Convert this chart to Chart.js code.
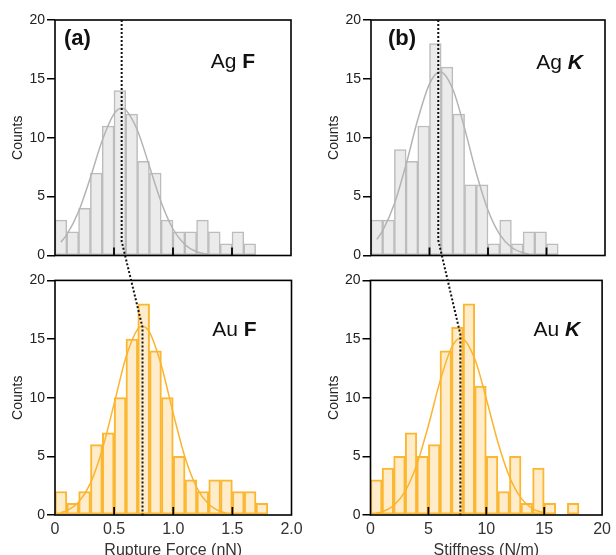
<!DOCTYPE html>
<html><head><meta charset="utf-8">
<script src="https://cdn.jsdelivr.net/npm/chart.js@4"></script>
<style>
html,body{margin:0;padding:0;background:#fff;}
#wrap{position:relative;width:616px;height:555px;overflow:hidden;background:#fff;}
#wrap canvas{position:absolute;}
</style></head><body>
<div id="wrap">
<canvas id="cAgF" width="308" height="270" style="left:0;top:0;width:308px;height:270px"></canvas>
<canvas id="cAuF" width="308" height="295" style="left:0;top:270px;width:308px;height:295px"></canvas>
<canvas id="cAgK" width="308" height="270" style="left:308px;top:0;width:308px;height:270px"></canvas>
<canvas id="cAuK" width="308" height="295" style="left:308px;top:270px;width:308px;height:295px"></canvas>
<canvas id="overlay" width="616" height="555" style="left:0;top:0;width:616px;height:555px;pointer-events:none"></canvas>
</div>
<script>
// ---- data ----
const forceCenters = [0.05,0.15,0.25,0.35,0.45,0.55,0.65,0.75,0.85,0.95,1.05,1.15,1.25,1.35,1.45,1.55,1.65,1.75];
const stiffCenters = [0.5,1.5,2.5,3.5,4.5,5.5,6.5,7.5,8.5,9.5,10.5,11.5,12.5,13.5,14.5,15.5,16.5,17.5];

const agForceCounts = [3,2,4,7,11,14,12,8,7,3,2,2,3,2,1,2,1];
const auForceCounts = [2,1,2,6,7,10,15,18,14,10,5,3,2,3,3,2,2,1];
const agStiffCounts = [3,3,9,8,11,18,16,12,6,6,1,3,1,2,2,1];
const auStiffCounts = [3,4,5,7,5,6,14,16,18,11,5,2,5,1,4,1,0,1];

const agForceFitX = [0.05,0.1,0.2,0.3,0.4,0.5,0.565,0.6,0.7,0.8,0.9,1.0,1.1,1.2,1.3];
const agForceFitY = [1.13,1.77,3.74,6.62,9.77,12.03,12.5,12.36,10.6,7.58,4.53,2.25,0.94,0.32,0.09];
const auForceFitX = [0.05,0.1,0.2,0.3,0.4,0.5,0.6,0.7,0.74,0.8,0.9,1.0,1.1,1.2,1.3,1.4,1.45];
const auForceFitY = [0.20,0.37,1.11,2.72,5.58,9.49,13.45,15.87,16.1,15.57,12.73,8.66,4.90,2.31,0.91,0.30,0.16];
const agStiffFitX = [0.5,1,2,3,4,5,5.9,7,8,9,10,11,12,13,13.5];
const agStiffFitY = [1.37,2.11,4.39,7.74,11.55,14.58,15.6,14.1,10.8,7.0,3.84,1.79,0.70,0.23,0.13];
const auStiffFitX = [0.5,1,2,3,4,5,6,7,7.8,9,10,11,12,13,14,15];
const auStiffFitY = [0.15,0.27,0.81,2.04,4.30,7.63,11.39,14.28,15.1,13.32,9.91,6.20,3.26,1.44,0.53,0.17];

const forceTickLabels = ['0','0.5','1.0','1.5','2.0'];
const stiffTickLabels = ['0','5','10','15','20'];
const forceInnerTicks = [0.5,1.0,1.5];
const stiffInnerTicks = [5,10,15];

// dotted guide: [Ag, Au] x values and the count where the line leaves the vertical
const forceGuideX = [0.565, 0.74];
const forceGuideY = [1.2, 16];
const stiffGuideX = [5.75, 7.76];
const stiffGuideY = [1.3, 15.4];

// ---- styles ----
const FONT = "'Liberation Sans', Arial, sans-serif";
Chart.defaults.font.family = FONT;
const AG = {fill:'#ebebeb', stroke:'#bcbcbc', line:'#b4b4b4', bw:1.5};
const AU = {fill:'#feecca', stroke:'#fcb732', line:'#fcb42e', bw:2};

function makePanel(p) {
  const framePlugin = {
    id: 'frame_' + p.id,
    afterDraw(chart) {
      const {ctx, chartArea: a} = chart;
      const xs = chart.scales.x;
      ctx.save();
      ctx.strokeStyle = '#000';
      ctx.lineWidth = 1.6;
      ctx.setLineDash([]);
      ctx.strokeRect(a.left, a.top, a.right - a.left, a.bottom - a.top);
      ctx.lineWidth = 1.8;
      p.innerTicks.forEach(v => {
        const x = xs.getPixelForValue(v);
        ctx.beginPath(); ctx.moveTo(x, a.bottom); ctx.lineTo(x, a.bottom - 8); ctx.stroke();
      });
      ctx.fillStyle = '#111';
      ctx.textBaseline = 'alphabetic';
      if (p.tag) {
        ctx.font = 'bold 22px ' + FONT;
        ctx.textAlign = 'left';
        ctx.fillText(p.tag, a.left + p.tagDx, a.top + 25);
      }
      // name: normal part + bold (maybe italic) symbol, right aligned
      ctx.font = p.symFont;
      const wSym = ctx.measureText(p.sym).width;
      ctx.font = '21px ' + FONT;
      const wName = ctx.measureText(p.name).width;
      const xr = a.right - p.nameDr;
      const yb = a.top + p.nameDy;
      ctx.textAlign = 'left';
      ctx.fillText(p.name, xr - wSym - wName, yb);
      ctx.font = p.symFont;
      ctx.fillText(p.sym, xr - wSym, yb);
      ctx.restore();
    }
  };
  return new Chart(document.getElementById(p.id), {
    type: 'bar',
    data: {
      datasets: [
        { type: 'line', order: 0, data: p.fitX.map((x, i) => ({x: x, y: p.fitY[i]})),
          borderColor: p.c.line, borderWidth: 1.5, pointRadius: 0, fill: false,
          cubicInterpolationMode: 'monotone' },
        { type: 'bar', order: 1, data: p.counts.map((y, i) => ({x: p.centers[i], y: y})),
          backgroundColor: p.c.fill, borderColor: p.c.stroke, borderWidth: p.c.bw,
          barPercentage: 1, categoryPercentage: 1, borderSkipped: false }
      ]
    },
    options: {
      responsive: false, animation: false, devicePixelRatio: 1,
      layout: { padding: p.padding },
      plugins: { legend: {display: false}, tooltip: {enabled: false} },
      scales: {
        x: {
          type: 'linear', min: 0, max: p.xMax, offset: false,
          grid: {display: false, drawTicks: false, tickLength: 0}, border: {display: false},
          ticks: { display: p.showX, stepSize: p.xMax / 4, autoSkip: false, maxRotation: 0,
                   padding: 5, color: '#333', font: {size: 16},
                   callback: (v, i) => p.xLabels[i] },
          title: { display: p.showX, text: p.xTitle, color: '#333', font: {size: 16},
                   padding: {top: 0, bottom: 5} },
          afterFit: s => { s.height = p.xHeight; }
        },
        y: {
          min: 0, max: 20,
          ticks: { stepSize: 5, padding: 2, color: '#222', font: {size: 14} },
          grid: { drawOnChartArea: false, drawTicks: true, tickLength: 8, color: '#000', lineWidth: 1.5 },
          border: { display: false },
          title: { display: true, text: 'Counts', color: '#222', font: {size: 14}, padding: {top: 10, bottom: 0} },
          afterFit: s => { s.width = 55; }
        }
      }
    },
    plugins: [framePlugin]
  });
}

const topPad = {top: 20, bottom: 14.5};
const botPad = {top: 9.3, bottom: 0};

const chAgF = makePanel({ id: 'cAgF', c: AG, centers: forceCenters, counts: agForceCounts,
  fitX: agForceFitX, fitY: agForceFitY, xMax: 2, xLabels: forceTickLabels, innerTicks: forceInnerTicks,
  showX: false, xTitle: '', xHeight: 0, padding: {left: 0, right: 17, ...topPad},
  tag: '(a)', tagDx: 9, name: 'Ag ', sym: 'F', symFont: 'bold 21px ' + FONT, nameDr: 36, nameDy: 48 });
const chAuF = makePanel({ id: 'cAuF', c: AU, centers: forceCenters, counts: auForceCounts,
  fitX: auForceFitX, fitY: auForceFitY, xMax: 2, xLabels: forceTickLabels, innerTicks: forceInnerTicks,
  showX: true, xTitle: 'Rupture Force (nN)', xHeight: 50, padding: {left: 0, right: 16.5, ...botPad},
  tag: null, name: 'Au ', sym: 'F', symFont: 'bold 21px ' + FONT, nameDr: 35, nameDy: 56 });
const chAgK = makePanel({ id: 'cAgK', c: AG, centers: stiffCenters, counts: agStiffCounts,
  fitX: agStiffFitX, fitY: agStiffFitY, xMax: 20, xLabels: stiffTickLabels, innerTicks: stiffInnerTicks,
  showX: false, xTitle: '', xHeight: 0, padding: {left: 8, right: 11, ...topPad},
  tag: '(b)', tagDx: 17, name: 'Ag ', sym: 'K', symFont: 'italic bold 21px ' + FONT, nameDr: 22, nameDy: 49 });
const chAuK = makePanel({ id: 'cAuK', c: AU, centers: stiffCenters, counts: auStiffCounts,
  fitX: auStiffFitX, fitY: auStiffFitY, xMax: 20, xLabels: stiffTickLabels, innerTicks: stiffInnerTicks,
  showX: true, xTitle: 'Stiffness (N/m)', xHeight: 50, padding: {left: 7.5, right: 10.5, ...botPad},
  tag: null, name: 'Au ', sym: 'K', symFont: 'italic bold 21px ' + FONT, nameDr: 22, nameDy: 56 });

// ---- dotted guide lines across panels ----
function drawGuide(ctx, topChart, topOff, botChart, botOff, gx, gy) {
  const t = topChart.scales, b = botChart.scales;
  const x0 = t.x.getPixelForValue(gx[0]) + topOff[0];
  const yTop = t.y.getPixelForValue(20) + topOff[1];
  const yBreak = t.y.getPixelForValue(gy[0]) + topOff[1];
  const x1 = b.x.getPixelForValue(gx[1]) + botOff[0];
  const y1 = b.y.getPixelForValue(gy[1]) + botOff[1];
  const yBot = b.y.getPixelForValue(0) + botOff[1] + 2;
  ctx.save();
  ctx.strokeStyle = '#111';
  ctx.lineWidth = 2;
  ctx.setLineDash([2, 2]);
  ctx.beginPath();
  ctx.moveTo(x0, yTop);
  ctx.lineTo(x0, yBreak);
  ctx.lineTo(x1, y1);
  ctx.lineTo(x1, yBot);
  ctx.stroke();
  ctx.restore();
}
const octx = document.getElementById('overlay').getContext('2d');
drawGuide(octx, chAgF, [0, 0], chAuF, [0, 270], forceGuideX, forceGuideY);
drawGuide(octx, chAgK, [308, 0], chAuK, [308, 270], stiffGuideX, stiffGuideY);
</script>
</body></html>
